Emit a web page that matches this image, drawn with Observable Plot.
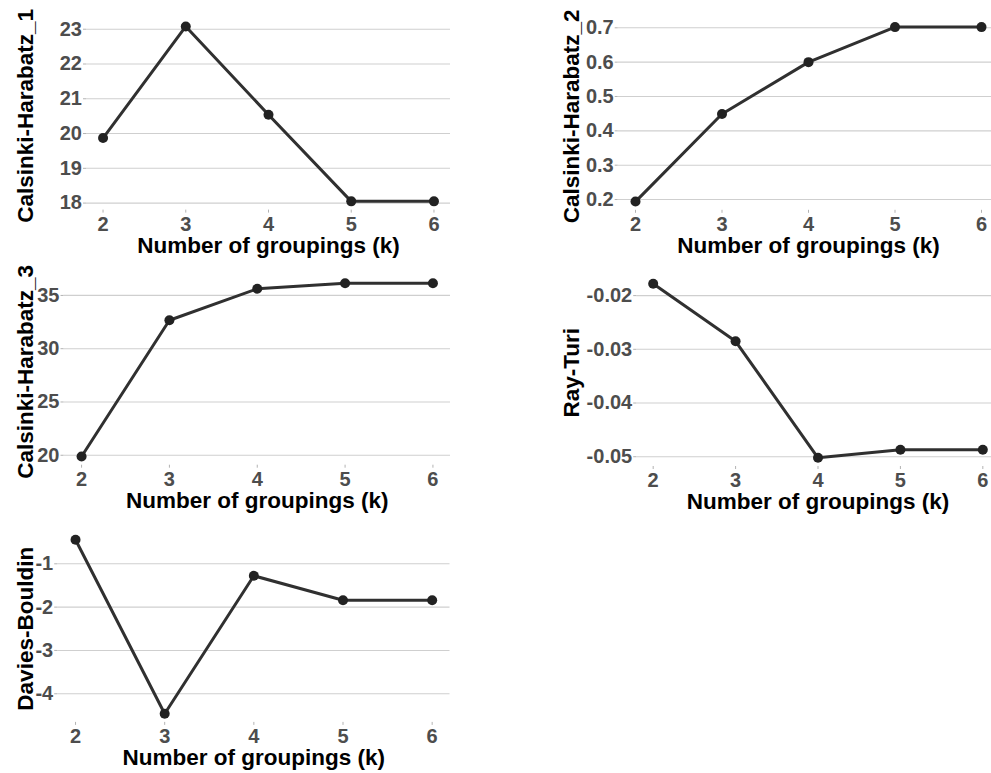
<!DOCTYPE html>
<html>
<head>
<meta charset="utf-8">
<script src="https://cdn.jsdelivr.net/npm/d3@7"></script>
<script src="https://cdn.jsdelivr.net/npm/@observablehq/plot@0.6"></script>
<style>
  html, body { margin: 0; padding: 0; background: #fff; overflow: hidden; }
  #chart { position: relative; width: 991px; height: 773px; overflow: hidden; }
  #chart > svg { position: absolute; }
</style>
</head>
<body>
<div id="chart"></div>
<script>
// Number of groupings evaluated
const k = [2, 3, 4, 5, 6];

// Validity index per k
const calinski1 = [19.87, 23.08, 20.54, 18.05, 18.05];
const calinski2 = [0.194, 0.449, 0.600, 0.702, 0.702];
const calinski3 = [19.88, 32.67, 35.62, 36.15, 36.15];
const rayTuri = [-0.0178, -0.0285, -0.0502, -0.0487, -0.0487];
const daviesBouldin = [-0.446, -4.46, -1.277, -1.84, -1.84];

// Y tick values per index
const ticks1 = [18, 19, 20, 21, 22, 23];
const ticks2 = [0.2, 0.3, 0.4, 0.5, 0.6, 0.7];
const ticks3 = [20, 25, 30, 35];
const ticks4 = [-0.05, -0.04, -0.03, -0.02];
const ticks5 = [-4, -3, -2, -1];

const names = ["Calsinki-Harabatz_1", "Calsinki-Harabatz_2", "Calsinki-Harabatz_3", "Ray-Turi", "Davies-Bouldin"];
const xTitle = "Number of groupings (k)";

// Layout of the five small panels (svg box + plot margins + title offset)
const layout = [
  {values: calinski1, ticks: ticks1, fmt: d => String(d), left: 0, top: 0, width: 470, height: 262, mt: 17.2, mr: 20, mb: 52.4, ml: 86, yOff: 61},
  {values: calinski2, ticks: ticks2, fmt: d => d.toFixed(1), left: 500, top: 0, width: 510, height: 262, mt: 17.9, mr: 11.7, mb: 52.2, ml: 117.7, yOff: 46},
  {values: calinski3, ticks: ticks3, fmt: d => String(d), left: 0, top: 262, width: 470, height: 258, mt: 12, mr: 20, mb: 55.3, ml: 63.5, yOff: 38.5},
  {values: rayTuri, ticks: ticks4, fmt: d => d.toFixed(2), left: 500, top: 262, width: 510, height: 258, mt: 12.6, mr: 11.2, mb: 54, ml: 136.2, yOff: 65.4},
  {values: daviesBouldin, ticks: ticks5, fmt: d => String(d), left: 0, top: 520, width: 470, height: 253, mt: 10.6, mr: 20.5, mb: 51.1, ml: 57.2, yOff: 32.2}
];

// ggplot-style 5% padding around the data range
function expand(extent) {
  const pad = (extent[1] - extent[0]) * 0.05;
  return [extent[0] - pad, extent[1] + pad];
}

const font = "'Liberation Sans', Arial, Helvetica, sans-serif";
const chart = document.getElementById("chart");

layout.forEach((p, i) => {
  const rows = k.map((kk, j) => ({k: kk, v: p.values[j]}));
  const svg = Plot.plot({
    width: p.width,
    height: p.height,
    marginTop: p.mt,
    marginRight: p.mr,
    marginBottom: p.mb,
    marginLeft: p.ml,
    style: {fontFamily: font, fontSize: "20px", background: "transparent", overflow: "visible"},
    x: {domain: expand(d3.extent(k))},
    y: {domain: expand(d3.extent(p.values))},
    marks: [
      Plot.gridY(p.ticks, {stroke: "#cfcfcf", strokeOpacity: 1, strokeWidth: 1.1}),
      Plot.axisY(p.ticks, {
        tickSize: 3, tickPadding: 1.5, tickFormat: p.fmt, label: null,
        fontSize: 20, fontWeight: "bold", fill: "#4d4d4d", stroke: "#b3b3b3"
      }),
      Plot.axisX(k, {
        tickSize: 3, tickPadding: 3.5, tickFormat: d => String(d), label: null,
        fontSize: 20, fontWeight: "bold", fill: "#4d4d4d", stroke: "#b3b3b3"
      }),
      Plot.line(rows, {x: "k", y: "v", stroke: "#303030", strokeWidth: 3}),
      Plot.dot(rows, {x: "k", y: "v", r: 5, fill: "#222222", stroke: "none"}),
      Plot.text([xTitle], {
        text: d => d, frameAnchor: "bottom", dy: 35.5, lineAnchor: "middle", textAnchor: "middle",
        fontSize: 22.5, fontWeight: "bold", fill: "#000"
      }),
      Plot.text([names[i]], {
        text: d => d, frameAnchor: "left", dx: -p.yOff, dy: 2, rotate: -90,
        lineAnchor: "middle", textAnchor: "middle",
        fontSize: 22.5, fontWeight: "bold", fill: "#000"
      })
    ]
  });
  svg.style.left = p.left + "px";
  svg.style.top = p.top + "px";
  chart.appendChild(svg);
});
</script>
</body>
</html>
